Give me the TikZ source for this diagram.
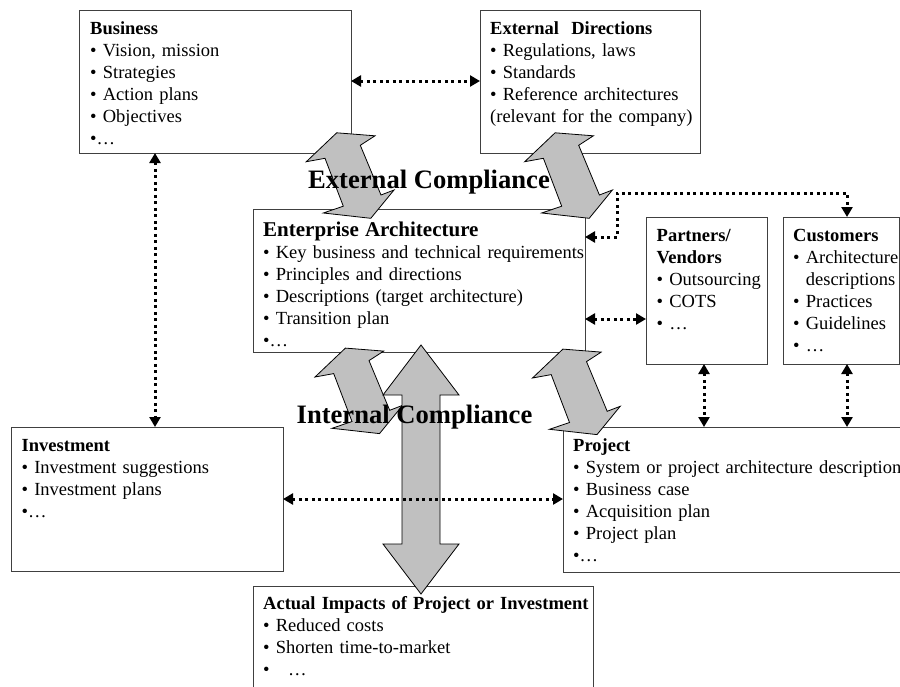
\documentclass[tikz,border=0pt]{standalone}
\usepackage{fontspec}
\setmainfont{Liberation Serif}
\usetikzlibrary{arrows.meta}
\newcommand\bodysz{\fontsize{18.5pt}{22pt}\selectfont}
\newcommand\easz{\fontsize{21pt}{22pt}\selectfont}
\newcommand\compsz{\fontsize{26.6pt}{30pt}\selectfont\bfseries}
\definecolor{arrgray}{RGB}{192,192,192}
\definecolor{boxline}{RGB}{64,64,64}
\tikzset{
  box/.style={draw=boxline, line width=1pt, fill=white, inner sep=0pt, outer sep=0pt, anchor=north west},
  txt/.style={anchor=base west, inner sep=0pt, text width=360pt, align=left, font=\bodysz},
  dotarr/.style={line width=3pt, dash pattern=on 3pt off 3.5pt,
    {Triangle[length=10pt,width=11pt]}-{Triangle[length=10pt,width=11pt]}},
  grayarr/.style={draw=black, line width=0.8pt, fill=arrgray, line join=miter},
  comp/.style={font=\compsz, anchor=base, inner sep=0pt},
  zig/.pic={\draw[grayarr] (0,0) -- (30.4,-28.9) -- (68.7,-25.9) -- (54,-16.4) -- (74.7,33.3)
     -- (87.7,28.3) -- (64.5,56.6) -- (17,51.3) -- (37,44.5) -- (18.7,-3.4) -- cycle;}
}
\begin{document}
\begin{tikzpicture}[x=1pt,y=-1pt]
\useasboundingbox (0,0) rectangle (900,686);
\clip (0,0) rectangle (900,686);
\fill[white] (0,0) rectangle (900,686);

% boxes
\node[box, minimum width=272pt, minimum height=143pt] (business) at (79,10) {};
\node[box, minimum width=220pt, minimum height=143pt] (ext) at (480,10) {};
\node[box, minimum width=332pt, minimum height=143pt] (ea) at (253,209) {};
\node[box, minimum width=121pt, minimum height=147pt] (partners) at (646,217) {};
\node[box, minimum width=116pt, minimum height=147pt] (customers) at (783,217) {};
\node[box, minimum width=272pt, minimum height=144pt] (invest) at (11,427) {};
\node[box, minimum width=347pt, minimum height=145pt] (project) at (563,427) {};
\node[box, minimum width=340pt, minimum height=120pt] (impacts) at (253,586) {};

% texts
\node[txt] (businesst) at (90,34) {\textbf{Business}\\ • Vision, mission\\ • Strategies\\ • Action plans\\ • Objectives\\ •…};
\node[txt] (extt) at (490,34) {\textbf{External\ \ Directions}\\ • Regulations, laws\\ • Standards\\ • Reference architectures\\ (relevant for the company)};
\node[txt] (eat) at (263,236) {{\easz\textbf{Enterprise Architecture}}\\ • Key business and technical requirements\\ • Principles and directions\\ • Descriptions (target architecture)\\ • Transition plan\\ •…};
\node[txt] (partnerst) at (656.5,241) {\textbf{Partners/}\\ \textbf{Vendors}\\ • Outsourcing\\ • COTS\\ • …};
\node[txt] (customerst) at (793,241) {\textbf{Customers}\\ • Architecture\\ \phantom{• }descriptions\\ • Practices\\ • Guidelines\\ • …};
\node[txt] (investt) at (21.5,451) {\textbf{Investment}\\ • Investment suggestions\\ • Investment plans\\ •…};
\node[txt] (projectt) at (573,451) {\textbf{Project}\\ • System or project architecture descriptions\\ • Business case\\ • Acquisition plan\\ • Project plan\\ •…};
\node[txt] (impactst) at (263,609) {\textbf{Actual Impacts of Project or Investment}\\ • Reduced costs\\ • Shorten time-to-market\\ •\ \ \ …};

% gray compliance arrows
\begin{scope}[shift={(306.3,161.7)}] \pic {zig}; \end{scope}
\begin{scope}[shift={(524.7,161.7)}, xscale=-1] \pic {zig}; \end{scope}
\begin{scope}[shift={(315,377)}, xscale=-1] \pic {zig}; \end{scope}
\begin{scope}[shift={(532.5,378)}] \pic {zig}; \end{scope}
\draw[grayarr] (421,345) -- (459,395) -- (440,395) -- (440,544) -- (459,544) -- (421,594)
  -- (383,544) -- (402,544) -- (402,395) -- (383,395) -- cycle;

% compliance labels
\node[comp] (extc) at (429,188) {External Compliance};
\node[comp] (intc) at (414.5,423) {Internal Compliance};

% helper coordinates for connector lines
\coordinate (h1) at (0,81);
\coordinate (h2) at (0,319);
\coordinate (h3) at (0,499);
\coordinate (h4) at (0,237);
\coordinate (v1) at (155,0);
\coordinate (v2) at (704,0);
\coordinate (v3) at (847,0);
\coordinate (k1) at (617,193);

% dotted connectors
\draw[dotarr] (business.east |- h1) -- (ext.west |- h1);
\draw[dotarr] (business.south -| v1) -- (invest.north -| v1);
\draw[dotarr] (ea.east |- h4) -| (k1) -| (customers.north -| v3);
\draw[dotarr] (ea.east |- h2) -- (partners.west |- h2);
\draw[dotarr] (partners.south -| v2) -- (project.north -| v2);
\draw[dotarr] (customers.south -| v3) -- (project.north -| v3);
\draw[dotarr] (invest.east |- h3) -- (project.west |- h3);
\end{tikzpicture}
\end{document}
